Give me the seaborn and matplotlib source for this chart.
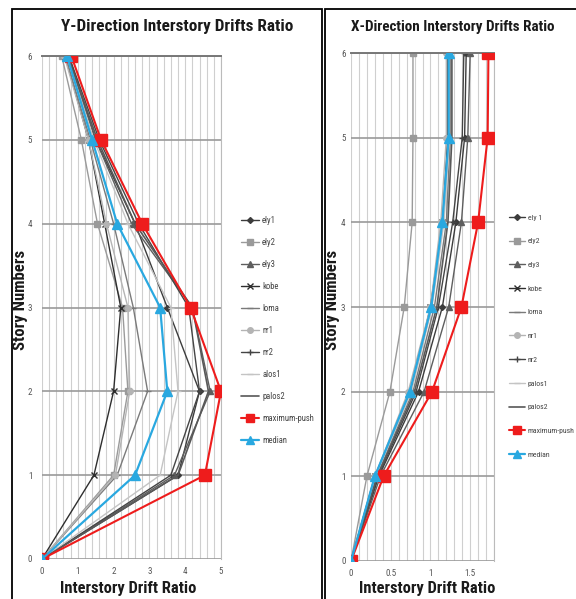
import matplotlib
matplotlib.use("Agg")
import matplotlib.pyplot as plt
from matplotlib import font_manager
from matplotlib.patches import Rectangle
from matplotlib.ticker import MultipleLocator
import pandas as pd
import seaborn as sns

sns.set_style("white")

# pick the narrowest available sans family
installed = {f.name for f in font_manager.fontManager.ttflist}
family = "DejaVu Sans"
for cand in ["Liberation Sans Narrow", "DejaVu Sans Condensed", "Roboto Condensed",
             "Open Sans Condensed", "Roboto", "Lato"]:
    if cand in installed:
        family = cand
        break
plt.rcParams["font.family"] = [family, "DejaVu Sans"]

stories = [0, 1, 2, 3, 4, 5, 6]
series_y = ["ely1", "ely2", "ely3", "kobe", "loma", "nr1", "nr2", "alos1", "palos2",
            "maximum-push", "median"]
series_x = ["ely 1", "ely2", "ely3", "kobe", "loma", "nr1", "nr2", "palos1", "palos2",
            "maximum-push", "median"]

# Y-direction drift ratios per story (story 0..6)
y_ely1 = [0, 3.8, 4.4, 3.5, 2.6, 1.5, 0.75]
y_ely2 = [0, 2.0, 2.4, 2.25, 1.55, 1.1, 0.55]
y_ely3 = [0, 3.7, 4.7, 4.2, 2.5, 1.5, 0.7]
y_kobe = [0, 1.45, 2.0, 2.2, 1.75, 1.3, 0.65]
y_loma = [0, 2.1, 2.95, 2.55, 2.0, 1.35, 0.65]
y_nr1 = [0, 2.05, 2.45, 2.4, 1.8, 1.3, 0.62]
y_nr2 = [0, 3.6, 4.4, 4.1, 2.7, 1.6, 0.75]
y_alos1 = [0, 3.3, 3.8, 3.6, 2.4, 1.45, 0.7]
y_palos2 = [0, 3.8, 4.65, 4.2, 2.6, 1.55, 0.72]
y_maxpush = [0, 4.55, 5.0, 4.15, 2.8, 1.65, 0.82]
y_median = [0, 2.6, 3.5, 3.3, 2.1, 1.4, 0.7]

# X-direction drift ratios per story (story 0..6)
x_ely1 = [0, 0.35, 0.85, 1.15, 1.32, 1.43, 1.45]
x_ely2 = [0, 0.2, 0.49, 0.67, 0.77, 0.78, 0.78]
x_ely3 = [0, 0.37, 0.92, 1.23, 1.39, 1.47, 1.5]
x_kobe = [0, 0.3, 0.75, 1.0, 1.15, 1.22, 1.22]
x_loma = [0, 0.32, 0.78, 1.05, 1.2, 1.25, 1.25]
x_nr1 = [0, 0.3, 0.72, 1.0, 1.13, 1.2, 1.2]
x_nr2 = [0, 0.34, 0.82, 1.1, 1.28, 1.4, 1.42]
x_palos1 = [0, 0.31, 0.76, 1.02, 1.17, 1.24, 1.24]
x_palos2 = [0, 0.33, 0.8, 1.08, 1.22, 1.27, 1.27]
x_maxpush = [0, 0.41, 1.02, 1.39, 1.6, 1.72, 1.73]
x_median = [0, 0.3, 0.74, 1.01, 1.15, 1.23, 1.23]

y_values = [y_ely1, y_ely2, y_ely3, y_kobe, y_loma, y_nr1, y_nr2, y_alos1, y_palos2,
            y_maxpush, y_median]
x_values = [x_ely1, x_ely2, x_ely3, x_kobe, x_loma, x_nr1, x_nr2, x_palos1, x_palos2,
            x_maxpush, x_median]

colors = ["#3c3c3c", "#9a9a9a", "#5e5e5e", "#2e2e2e", "#7a7a7a", "#b4b4b4", "#444444",
          "#c4c4c4", "#585858", "#ee1c1c", "#29a8e0"]
markers = ["D", "s", "^", "x", "_", "o", "+", "_", "None", "s", "^"]
msizes = [3, 4, 4, 4, 5, 4, 5, 4, 0, 8, 7]
lwidths = [1.0, 1.0, 1.0, 1.0, 1.0, 1.0, 1.0, 1.0, 1.2, 1.5, 1.6]
zorders = [2, 2, 2, 2, 2, 2, 2, 2, 2, 5, 6]

W, H = 576, 599
fig = plt.figure(figsize=(W / 100, H / 100), dpi=100)
renderer = fig.canvas.get_renderer()


def fitted_text(x, y, s, target, rotation=0, start=12):
    """Place bold text and shrink it so its long side spans `target` pixels."""
    t = fig.text(x / W, 1 - y / H, s, ha="center", va="center", rotation=rotation,
                 fontsize=start, fontweight="bold", color="#1a1a1a")
    bb = t.get_window_extent(renderer)
    span = bb.height if rotation else bb.width
    t.set_fontsize(start * target / span)
    return t


# panel frames
fig.add_artist(Rectangle((12 / W, -0.01), (322 - 12) / W, 1 - 9 / H + 0.01,
                         transform=fig.transFigure, fill=False, ec="black", lw=1.3))
fig.add_artist(Rectangle((325 / W, -0.01), (W + 5 - 325) / W, 1 - 9 / H + 0.01,
                         transform=fig.transFigure, fill=False, ec="black", lw=1.3))


def draw_panel(rect, names, values, xmax, xminor, xticks, xticklabels,
               title, title_x, title_w, xlab_x, leg_x, leg_y, leg_fs, leg_sp,
               ylab_x, ypad):
    ax = fig.add_axes(rect)
    handles = []
    for n, vals, c, m, ms, lw, z in zip(names, values, colors, markers, msizes,
                                        lwidths, zorders):
        df = pd.DataFrame({"drift": vals, "story": stories})
        sns.lineplot(data=df, x="drift", y="story", orient="y", sort=True,
                     estimator=None, color=c, marker=m, markersize=ms, lw=lw,
                     markeredgecolor=c, markeredgewidth=1.0, zorder=z, ax=ax)
        h, = ax.plot([], [], color=c, marker=m, markersize=min(ms, 6), lw=lw,
                     markeredgecolor=c)
        handles.append(h)
    ax.set_xlim(0, xmax)
    ax.set_ylim(0, 6)
    ax.xaxis.set_minor_locator(MultipleLocator(xminor))
    ax.set_xticks(xticks)
    ax.set_xticklabels(xticklabels)
    ax.set_yticks(range(7))
    ax.grid(which="minor", axis="x", color="#cfcfcf", lw=0.8)
    ax.grid(which="major", axis="x", color="#cfcfcf", lw=0.8)
    ax.grid(which="major", axis="y", color="#9a9a9a", lw=1.2)
    ax.set_axisbelow(True)
    for side in ["left", "bottom"]:
        ax.spines[side].set_visible(False)
    ax.spines["top"].set_color("#777777")
    ax.spines["top"].set_linewidth(1.4)
    ax.spines["right"].set_color("#bbbbbb")
    ax.tick_params(axis="both", length=0, labelsize=6.5, labelcolor="#555555", pad=6)
    ax.tick_params(axis="y", pad=ypad)
    ax.set_xlabel("")
    ax.set_ylabel("")
    fitted_text(title_x, 27, title, title_w)
    fitted_text(xlab_x, 588, "Interstory Drift Ratio", 137)
    fitted_text(ylab_x, 300, "Story Numbers", 100, rotation=90)
    fig.legend(handles, names, loc="upper left",
               bbox_to_anchor=(leg_x / W, 1 - leg_y / H), frameon=False,
               fontsize=leg_fs, labelspacing=leg_sp, handlelength=2.0,
               handletextpad=0.4, borderaxespad=0, labelcolor="#444444")
    return ax


draw_panel([42 / W, 1 - 559 / H, (221 - 42) / W, (559 - 56) / H],
           series_y, y_values, 5, 0.2, [0, 1, 2, 3, 4, 5],
           ["0", "1", "2", "3", "4", "5"],
           "Y-Direction Interstory Drifts Ratio", 177, 232, 128,
           238, 213, 6.2, 1.51, 21, 7)
draw_panel([351 / W, 1 - 561 / H, (494 - 351) / W, (561 - 53) / H],
           series_x, x_values, 1.8, 0.1, [0, 0.5, 1, 1.5],
           ["0", "0.5", "1", "1.5"],
           "X-Direction Interstory Drifts Ratio", 453, 205, 427,
           506, 211, 5.6, 2.22, 333, 4)

fig.savefig("out.png", dpi=100)
